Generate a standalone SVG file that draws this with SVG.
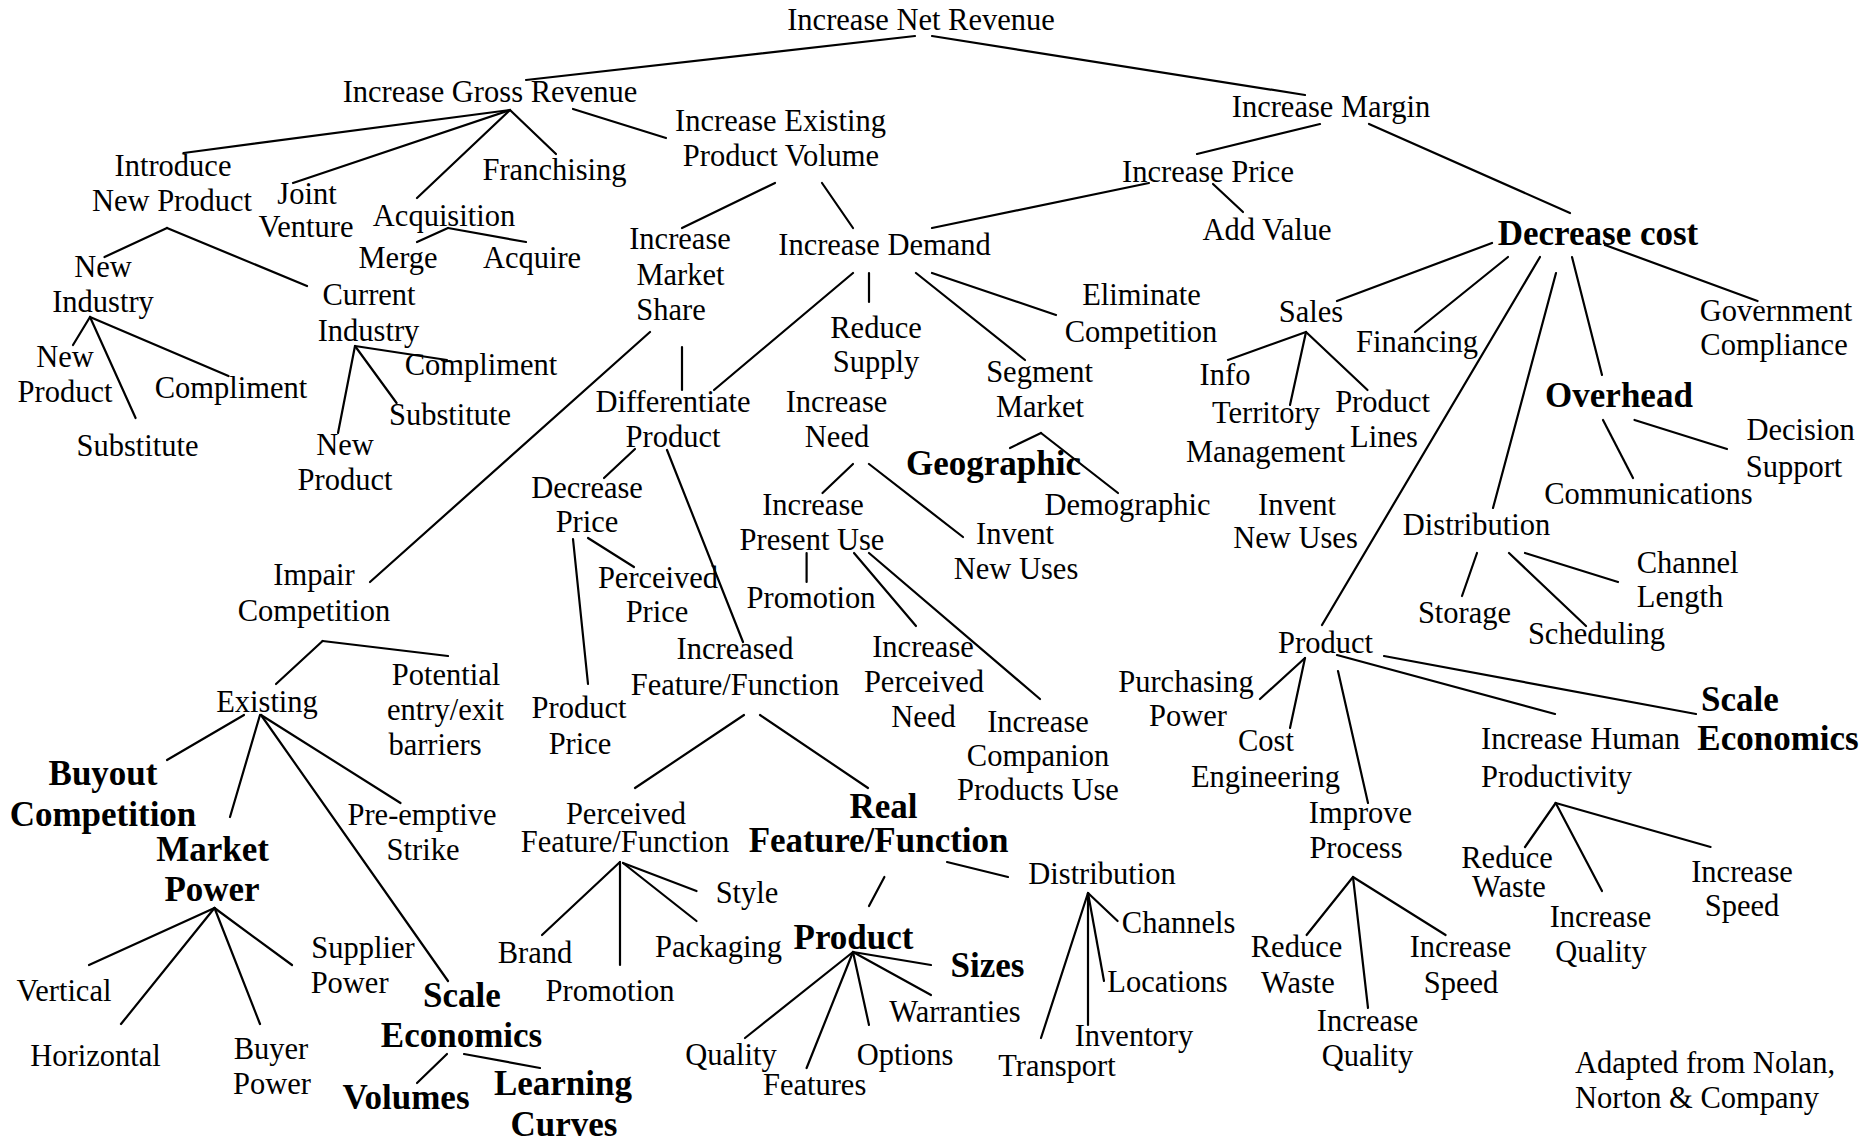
<svg xmlns="http://www.w3.org/2000/svg" width="1868" height="1140" viewBox="0 0 1868 1140">
<style>
  text { font-family: "Liberation Serif", "Times New Roman", serif; font-size: 30.5px; fill: #000; text-anchor: middle; }
  text.b { font-weight: bold; font-size: 35px; }
  text.l { text-anchor: start; }
  #connectors line { stroke: #000; stroke-width: 2.2; stroke-linecap: round; }
</style>
<rect width="1868" height="1140" fill="#fff"/>

<!-- connectors -->
<g id="connectors">
  <line x1="915" y1="36" x2="526" y2="80"/>
  <line x1="932" y1="36" x2="1305" y2="95"/>
  <line x1="510" y1="110" x2="183.5" y2="153"/>
  <line x1="510" y1="110" x2="293" y2="183"/>
  <line x1="510" y1="110" x2="417" y2="198"/>
  <line x1="510" y1="110" x2="556" y2="154"/>
  <line x1="573" y1="109" x2="666" y2="138"/>
  <line x1="167" y1="228" x2="104.5" y2="257"/>
  <line x1="167" y1="228" x2="307" y2="286"/>
  <line x1="448" y1="228" x2="417" y2="242"/>
  <line x1="448" y1="228" x2="526" y2="242"/>
  <line x1="90" y1="317" x2="73" y2="345"/>
  <line x1="90" y1="317" x2="135.6" y2="418"/>
  <line x1="90" y1="317" x2="228.5" y2="376"/>
  <line x1="355" y1="346" x2="338" y2="433"/>
  <line x1="355" y1="346" x2="396.6" y2="403"/>
  <line x1="355" y1="346" x2="447" y2="360"/>
  <line x1="775" y1="183" x2="682" y2="228"/>
  <line x1="822" y1="183" x2="853" y2="228"/>
  <line x1="650" y1="332" x2="370" y2="582"/>
  <line x1="682" y1="347" x2="682" y2="390"/>
  <line x1="853" y1="273" x2="714" y2="390"/>
  <line x1="869" y1="273" x2="869" y2="302"/>
  <line x1="916" y1="273" x2="1025" y2="360"/>
  <line x1="932" y1="273" x2="1056" y2="315"/>
  <line x1="1197" y1="154" x2="1320" y2="124"/>
  <line x1="1369" y1="124" x2="1570" y2="213"/>
  <line x1="1149" y1="183" x2="932" y2="228"/>
  <line x1="1213" y1="184" x2="1243" y2="212"/>
  <line x1="1041" y1="433" x2="1010" y2="448"/>
  <line x1="1041" y1="433" x2="1118" y2="493"/>
  <line x1="853" y1="464" x2="822.5" y2="493"/>
  <line x1="869" y1="464" x2="963" y2="537"/>
  <line x1="806.6" y1="553" x2="806.6" y2="582"/>
  <line x1="854" y1="553" x2="916" y2="626"/>
  <line x1="869" y1="553" x2="1040" y2="699"/>
  <line x1="635" y1="449" x2="604" y2="478"/>
  <line x1="667" y1="450" x2="743" y2="642"/>
  <line x1="573" y1="539" x2="588" y2="684"/>
  <line x1="588" y1="538" x2="634" y2="567"/>
  <line x1="744" y1="715" x2="635" y2="788"/>
  <line x1="760" y1="715" x2="868" y2="788"/>
  <line x1="620" y1="862" x2="542" y2="935"/>
  <line x1="620" y1="862" x2="620" y2="965"/>
  <line x1="623" y1="863" x2="696.5" y2="891"/>
  <line x1="623" y1="863" x2="696.5" y2="921"/>
  <line x1="884.4" y1="877" x2="869" y2="906"/>
  <line x1="947" y1="862" x2="1008" y2="877"/>
  <line x1="853" y1="952" x2="931" y2="965"/>
  <line x1="853" y1="952" x2="931" y2="995"/>
  <line x1="853" y1="952" x2="869" y2="1025"/>
  <line x1="853" y1="952" x2="806.6" y2="1068"/>
  <line x1="853" y1="952" x2="745" y2="1038"/>
  <line x1="1088" y1="893" x2="1117.6" y2="921"/>
  <line x1="1088" y1="893" x2="1104" y2="981"/>
  <line x1="1088" y1="893" x2="1088" y2="1025"/>
  <line x1="1088" y1="893" x2="1041" y2="1038"/>
  <line x1="322.6" y1="641" x2="276" y2="684"/>
  <line x1="322.6" y1="641" x2="448" y2="656"/>
  <line x1="244" y1="715" x2="167" y2="760"/>
  <line x1="260" y1="715" x2="230" y2="817"/>
  <line x1="261" y1="715" x2="448" y2="981"/>
  <line x1="261" y1="715" x2="400.5" y2="803"/>
  <line x1="214.5" y1="908" x2="89" y2="965"/>
  <line x1="214.5" y1="908" x2="121" y2="1024"/>
  <line x1="214.5" y1="908" x2="260" y2="1024"/>
  <line x1="214.5" y1="908" x2="292" y2="965"/>
  <line x1="447" y1="1054" x2="417" y2="1083"/>
  <line x1="464" y1="1054" x2="540" y2="1068"/>
  <line x1="1492" y1="243" x2="1337" y2="301"/>
  <line x1="1508" y1="257" x2="1415" y2="332"/>
  <line x1="1540" y1="257" x2="1322" y2="625"/>
  <line x1="1556" y1="273" x2="1493" y2="508"/>
  <line x1="1572" y1="257" x2="1602" y2="375"/>
  <line x1="1605" y1="245" x2="1757.5" y2="301"/>
  <line x1="1306" y1="332" x2="1228" y2="360"/>
  <line x1="1306" y1="332" x2="1290" y2="405"/>
  <line x1="1306" y1="332" x2="1367.5" y2="390"/>
  <line x1="1603" y1="420" x2="1633" y2="478"/>
  <line x1="1634.5" y1="420" x2="1727" y2="449"/>
  <line x1="1477" y1="553" x2="1462" y2="596"/>
  <line x1="1509" y1="553" x2="1586" y2="626"/>
  <line x1="1525" y1="553" x2="1618" y2="582"/>
  <line x1="1305" y1="658" x2="1260" y2="699"/>
  <line x1="1305" y1="658" x2="1290" y2="728"/>
  <line x1="1338" y1="671" x2="1368" y2="803"/>
  <line x1="1337" y1="655" x2="1555" y2="714"/>
  <line x1="1384" y1="656" x2="1696" y2="714"/>
  <line x1="1353" y1="877" x2="1306.6" y2="935"/>
  <line x1="1353" y1="877" x2="1368" y2="1008"/>
  <line x1="1353" y1="877" x2="1445.6" y2="935"/>
  <line x1="1555.7" y1="803" x2="1525" y2="847"/>
  <line x1="1555.7" y1="803" x2="1602" y2="891"/>
  <line x1="1555.7" y1="803" x2="1710.6" y2="847"/>
</g>

<!-- top levels -->
<g id="n-net-revenue"><text x="921" y="30">Increase Net Revenue</text></g>
<g id="n-gross-revenue"><text x="490" y="102">Increase Gross Revenue</text></g>
<g id="n-margin"><text x="1331" y="117">Increase Margin</text></g>
<g id="n-existing-volume"><text><tspan x="780.5" y="131">Increase Existing</tspan><tspan x="781" y="166">Product Volume</tspan></text></g>

<!-- gross revenue branch -->
<g id="n-introduce"><text><tspan x="173" y="176">Introduce</tspan><tspan x="172" y="211">New Product</tspan></text></g>
<g id="n-joint-venture"><text><tspan x="307" y="204">Joint</tspan><tspan x="306" y="237">Venture</tspan></text></g>
<g id="n-franchising"><text x="554.5" y="180">Franchising</text></g>
<g id="n-acquisition"><text x="444" y="226">Acquisition</text></g>
<g id="n-merge"><text x="398" y="268">Merge</text></g>
<g id="n-acquire"><text x="532" y="268">Acquire</text></g>
<g id="n-new-industry"><text><tspan x="103" y="277">New</tspan><tspan x="103" y="312">Industry</tspan></text></g>
<g id="n-current-industry"><text><tspan x="369" y="305">Current</tspan><tspan x="368.5" y="341">Industry</tspan></text></g>
<g id="n-ni-new-product"><text><tspan x="65" y="367">New</tspan><tspan x="65" y="402">Product</tspan></text></g>
<g id="n-ni-compliment"><text x="231" y="398">Compliment</text></g>
<g id="n-ni-substitute"><text x="137.5" y="456">Substitute</text></g>
<g id="n-ci-compliment"><text x="481" y="375">Compliment</text></g>
<g id="n-ci-substitute"><text x="450" y="425">Substitute</text></g>
<g id="n-ci-new-product"><text><tspan x="345" y="455">New</tspan><tspan x="345" y="490">Product</tspan></text></g>

<!-- existing product volume branch -->
<g id="n-market-share"><text><tspan x="680" y="249">Increase</tspan><tspan x="680.5" y="285">Market</tspan><tspan x="671" y="320">Share</tspan></text></g>
<g id="n-demand"><text x="884.5" y="255">Increase Demand</text></g>
<g id="n-reduce-supply"><text><tspan x="876" y="338">Reduce</tspan><tspan x="876" y="372">Supply</tspan></text></g>
<g id="n-eliminate"><text><tspan x="1141.5" y="305">Eliminate</tspan><tspan x="1141" y="342">Competition</tspan></text></g>
<g id="n-segment"><text><tspan x="1039.5" y="382">Segment</tspan><tspan x="1040" y="417">Market</tspan></text></g>
<g id="n-geographic"><text class="b" x="993.5" y="475">Geographic</text></g>
<g id="n-demographic"><text x="1127.5" y="515">Demographic</text></g>
<g id="n-differentiate"><text><tspan x="673" y="412">Differentiate</tspan><tspan x="673" y="447">Product</tspan></text></g>
<g id="n-increase-need"><text><tspan x="836.5" y="412">Increase</tspan><tspan x="837" y="447">Need</tspan></text></g>
<g id="n-present-use"><text><tspan x="813" y="515">Increase</tspan><tspan x="812" y="550">Present Use</tspan></text></g>
<g id="n-promotion-use"><text x="811" y="608">Promotion</text></g>
<g id="n-invent-uses-a"><text><tspan x="1015" y="544">Invent</tspan><tspan x="1016" y="579">New Uses</tspan></text></g>
<g id="n-perceived-need"><text><tspan x="923" y="657">Increase</tspan><tspan x="924" y="692">Perceived</tspan><tspan x="923.5" y="727">Need</tspan></text></g>
<g id="n-companion"><text><tspan x="1038" y="732">Increase</tspan><tspan x="1038" y="766">Companion</tspan><tspan x="1038" y="800">Products Use</tspan></text></g>
<g id="n-decrease-price"><text><tspan x="587" y="498">Decrease</tspan><tspan x="587" y="532">Price</tspan></text></g>
<g id="n-perceived-price"><text><tspan x="658" y="588">Perceived</tspan><tspan x="657" y="622">Price</tspan></text></g>
<g id="n-product-price"><text><tspan x="579" y="718">Product</tspan><tspan x="580" y="754">Price</tspan></text></g>
<g id="n-increased-ff"><text><tspan x="735" y="659">Increased</tspan><tspan x="735" y="695">Feature/Function</tspan></text></g>
<g id="n-perceived-ff"><text><tspan x="626" y="824">Perceived</tspan><tspan x="625" y="852">Feature/Function</tspan></text></g>
<g id="n-brand"><text x="535" y="963">Brand</text></g>
<g id="n-promotion-ff"><text x="610" y="1001">Promotion</text></g>
<g id="n-style"><text x="747" y="903">Style</text></g>
<g id="n-packaging"><text x="718.5" y="957">Packaging</text></g>
<g id="n-real-ff"><text class="b"><tspan x="883.5" y="818">Real</tspan><tspan x="878.6" y="852">Feature/Function</tspan></text></g>
<g id="n-product-mid"><text class="b" x="853.5" y="949">Product</text></g>
<g id="n-sizes"><text class="b" x="987.5" y="977">Sizes</text></g>
<g id="n-warranties"><text x="955" y="1022">Warranties</text></g>
<g id="n-options"><text x="905" y="1065">Options</text></g>
<g id="n-quality-mid"><text x="731" y="1065">Quality</text></g>
<g id="n-features"><text x="814.6" y="1095">Features</text></g>
<g id="n-distribution-mid"><text x="1102" y="884">Distribution</text></g>
<g id="n-channels"><text x="1178.6" y="933">Channels</text></g>
<g id="n-locations"><text x="1167.5" y="992">Locations</text></g>
<g id="n-inventory"><text x="1134" y="1046">Inventory</text></g>
<g id="n-transport"><text x="1057" y="1076">Transport</text></g>

<!-- impair competition branch -->
<g id="n-impair"><text><tspan x="314" y="585">Impair</tspan><tspan x="314" y="621">Competition</tspan></text></g>
<g id="n-existing"><text x="267" y="712">Existing</text></g>
<g id="n-potential"><text><tspan x="446" y="685">Potential</tspan><tspan x="445.5" y="720">entry/exit</tspan><tspan x="435" y="755">barriers</tspan></text></g>
<g id="n-buyout"><text class="b"><tspan x="103" y="785">Buyout</tspan><tspan x="103" y="826">Competition</tspan></text></g>
<g id="n-market-power"><text class="b"><tspan x="212.5" y="861">Market</tspan><tspan x="212" y="901">Power</tspan></text></g>
<g id="n-preemptive"><text><tspan x="422" y="825">Pre-emptive</tspan><tspan x="423" y="860">Strike</tspan></text></g>
<g id="n-vertical"><text x="64" y="1001">Vertical</text></g>
<g id="n-horizontal"><text x="95.5" y="1066">Horizontal</text></g>
<g id="n-buyer-power"><text><tspan x="271" y="1059">Buyer</tspan><tspan x="272" y="1094">Power</tspan></text></g>
<g id="n-supplier-power"><text><tspan x="363" y="958">Supplier</tspan><tspan x="349.6" y="993">Power</tspan></text></g>
<g id="n-scale-left"><text class="b"><tspan x="462" y="1007">Scale</tspan><tspan x="461.5" y="1047">Economics</tspan></text></g>
<g id="n-volumes"><text class="b" x="406" y="1109">Volumes</text></g>
<g id="n-learning"><text class="b"><tspan x="563" y="1095">Learning</tspan><tspan x="564" y="1136">Curves</tspan></text></g>

<!-- margin branch -->
<g id="n-increase-price"><text x="1208" y="182">Increase Price</text></g>
<g id="n-add-value"><text x="1267" y="240">Add Value</text></g>
<g id="n-decrease-cost"><text class="b" x="1598" y="245">Decrease cost</text></g>
<g id="n-sales"><text x="1311" y="322">Sales</text></g>
<g id="n-financing"><text x="1417" y="352">Financing</text></g>
<g id="n-government"><text><tspan x="1776" y="321">Government</tspan><tspan x="1774" y="355">Compliance</tspan></text></g>
<g id="n-info"><text x="1225" y="385">Info</text></g>
<g id="n-territory"><text><tspan x="1266" y="423">Territory</tspan><tspan x="1265.5" y="462">Management</tspan></text></g>
<g id="n-product-lines"><text><tspan x="1382.6" y="412">Product</tspan><tspan x="1384" y="447">Lines</tspan></text></g>
<g id="n-overhead"><text class="b" x="1619" y="407">Overhead</text></g>
<g id="n-decision"><text><tspan x="1800.6" y="440">Decision</tspan><tspan x="1794" y="477">Support</tspan></text></g>
<g id="n-communications"><text x="1648.5" y="503.5">Communications</text></g>
<g id="n-invent-uses-b"><text><tspan x="1297" y="515">Invent</tspan><tspan x="1295.5" y="548">New Uses</tspan></text></g>
<g id="n-distribution-right"><text x="1476.5" y="535">Distribution</text></g>
<g id="n-channel-length"><text><tspan x="1687.6" y="573">Channel</tspan><tspan x="1680" y="607">Length</tspan></text></g>
<g id="n-storage"><text x="1464.5" y="623">Storage</text></g>
<g id="n-scheduling"><text x="1596.5" y="644">Scheduling</text></g>
<g id="n-product-right"><text x="1325.5" y="653">Product</text></g>
<g id="n-purchasing"><text><tspan x="1186" y="692">Purchasing</tspan><tspan x="1188" y="726">Power</tspan></text></g>
<g id="n-cost-engineering"><text><tspan x="1266" y="751">Cost</tspan><tspan x="1265.5" y="787">Engineering</tspan></text></g>
<g id="n-scale-right"><text class="b"><tspan x="1740" y="711">Scale</tspan><tspan x="1778" y="750">Economics</tspan></text></g>
<g id="n-human-productivity"><text><tspan x="1580.5" y="749">Increase Human</tspan><tspan x="1556.5" y="787">Productivity</tspan></text></g>
<g id="n-improve-process"><text><tspan x="1360.5" y="823">Improve</tspan><tspan x="1356" y="858">Process</tspan></text></g>
<g id="n-process-waste"><text><tspan x="1296.5" y="957">Reduce</tspan><tspan x="1298" y="993">Waste</tspan></text></g>
<g id="n-process-speed"><text><tspan x="1460.5" y="957">Increase</tspan><tspan x="1461" y="993">Speed</tspan></text></g>
<g id="n-process-quality"><text><tspan x="1367.6" y="1031">Increase</tspan><tspan x="1367.5" y="1066">Quality</tspan></text></g>
<g id="n-human-waste"><text><tspan x="1507" y="868">Reduce</tspan><tspan x="1509" y="897">Waste</tspan></text></g>
<g id="n-human-quality"><text><tspan x="1600.5" y="927">Increase</tspan><tspan x="1601" y="962">Quality</tspan></text></g>
<g id="n-human-speed"><text><tspan x="1742" y="882">Increase</tspan><tspan x="1742" y="916">Speed</tspan></text></g>

<!-- source note -->
<g id="n-credit"><text class="l"><tspan x="1575" y="1073">Adapted from Nolan,</tspan><tspan x="1575" y="1108">Norton &amp; Company</tspan></text></g>
</svg>
